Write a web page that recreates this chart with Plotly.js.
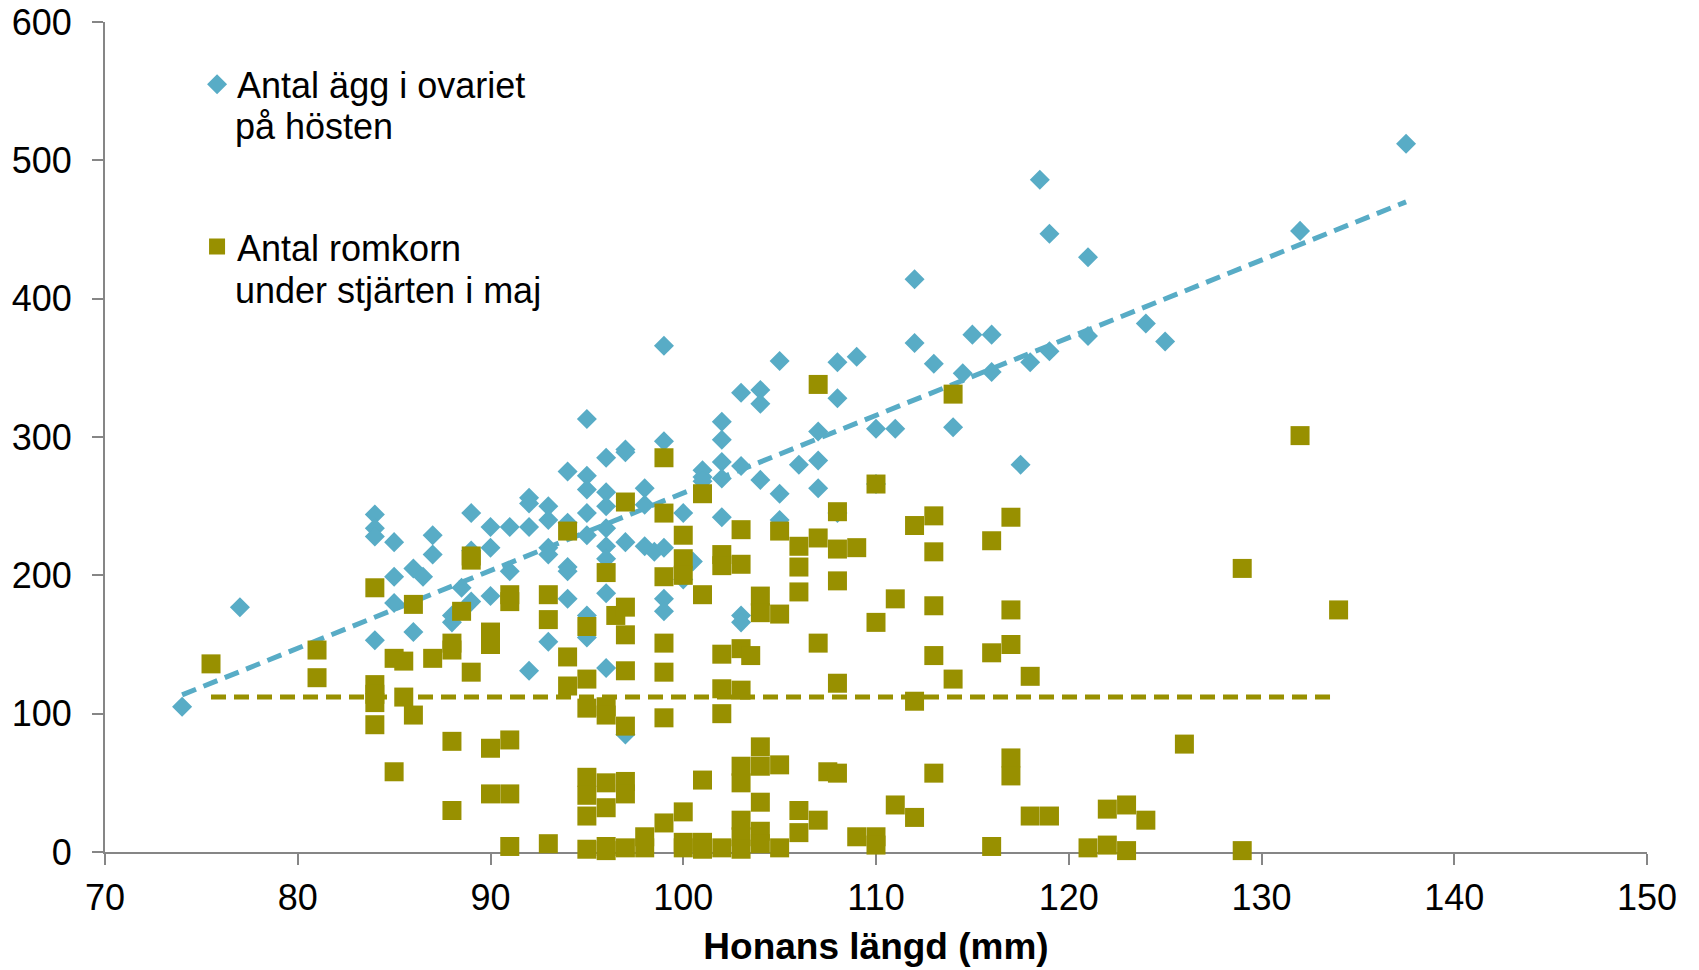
<!DOCTYPE html>
<html><head><meta charset="utf-8">
<script src="https://cdn.plot.ly/plotly-3.0.1.min.js"></script>
<style>html,body{margin:0;padding:0;background:#fff;}#chart{width:1699px;height:970px;}</style>
</head><body><div id="chart"></div>
<script>
// Series 1: Antal ägg i ovariet på hösten  [length mm, count]
const eggPoints = [[74,105],[77,177],[84,244],[84,234],[84,228],[84,153],[85,224],[85,199],[85,180],[86,205],[86.5,199],[86,159],[87,229],[87,215],[88,171],[88,166],[88.5,191],[89,245],[89,218],[89,181],[90,235],[90,220],[90,185],[91,235],[91,203],[92,256],[92,252],[92,235],[92,131],[93,250],[93,240],[93,220],[93,215],[93,152],[94,275],[94,238],[94,206],[94,203],[94,183],[95,313],[95,272],[95,262],[95,245],[95,229],[95,171],[95,155],[96,285],[96,260],[96,250],[96,234],[96,221],[96,212],[96,187],[96,133],[97,291],[97,289],[97,224],[97,85],[98,263],[98,251],[98,221],[98.5,217],[99,366],[99,297],[99,220],[99,183],[99,174],[100,245],[100,197],[100.5,210],[101,276],[101,271],[101,268],[102,311],[102,298],[102,282],[102,270],[102,242],[103,332],[103,279],[103,171],[103,166],[104,334],[104,324],[104,269],[105,355],[105,259],[105,240],[106,280],[107,304],[107,283],[107,263],[108,354],[108,328],[108,245],[109,358],[110,306],[110,266],[111,306],[112,414],[112,368],[113,353],[114,307],[114.5,346],[115,374],[116,374],[116,347],[117.5,280],[118,354],[118.5,486],[119,447],[119,362],[121,430],[121,373],[124,382],[125,369],[132,449],[137.5,512]];

// Series 2: Antal romkorn under stjärten i maj  [length mm, count]
const roePoints = [[84,191],[86,179],[88.5,174],[89,214],[89,211],[91,186],[91,181],[93,186],[93,168],[94,232],[95,163],[96,202],[96.5,171],[97,177],[97,253],[99,285],[99,245],[99,199],[100,229],[100,212],[100,200],[101,259],[101,186],[102,215],[102,207],[103,233],[103,208],[104,185],[104,173],[105,172],[105,232],[106,221],[106,206],[106,188],[107,338],[107,227],[107,151],[108,246],[108,219],[108,196],[109,220],[110,266],[110,166],[111,183],[112,236],[113,243],[113,217],[113,178],[114,331],[116,225],[117,242],[117,175],[129,205],[132,301],[134,175],
[75.5,136],[81,146],[81,126],[84,121],[84,114],[84,108],[84,92],[85,140],[85.5,138],[85.5,112],[86,99],[87,140],[88,151],[88,146],[89,130],[90,159],[90,150],[94,141],[94,120],[95,125],[95,104],[96,105],[96,99],[97,157],[97,131],[97,91],[99,151],[99,130],[99,97],[102,143],[102,118],[102,100],[103,147],[103.5,142],[103,117],[108,122],[112,109],[113,142],[114,125],[116,144],[117,150],[118,127],
[85,58],[88,80],[88,30],[90,75],[91,81],[90,42],[91,42],[95,54],[95,41],[95,26],[96,50],[96,32],[97,51],[97,42],[101,52],[103,62],[103,50],[104,76],[104,62],[104,36],[105,63],[107.5,58],[108,57],[111,34],[113,57],[117,68],[117,55],[126,78],
[91,4],[93,6],[95,2],[96,4],[96,1],[97,3],[98,11],[98,3],[99,21],[100,29],[100,7],[100,3],[101,7],[101,2],[102,3],[103,23],[103,11],[103,2],[104,15],[104,6],[105,3],[106,30],[106,14],[107,23],[109,11],[110,11],[110,5],[112,25],[116,4],[118,26],[119,26],[121,3],[122,31],[122,5],[123,34],[123,1],[124,23],[129,1]];

// Trend lines
const eggTrendLength = [74, 137.5];
const eggTrendCount = [113.6, 470];
const roeTrendLength = [75.5, 133.6];
const roeTrendCount = [112, 112];

const legendLine1 = ['Antal ägg i ovariet', 'Antal romkorn'];
const legendLine2 = ['på hösten', 'under stjärten i maj'];
const xTicks = [70, 80, 90, 100, 110, 120, 130, 140, 150];
const yTicks = [0, 100, 200, 300, 400, 500, 600];
const xTitle = 'Honans längd (mm)';

const BLUE = '#58acc6', OLIVE = '#989000';
const FONT = 'Liberation Sans, Arial, sans-serif';

const traces = [
  {x: eggTrendLength, y: eggTrendCount, mode: 'lines', showlegend: false, hoverinfo: 'skip',
   line: {color: BLUE, width: 5, dash: '15px,8px'}, cliponaxis: false},
  {x: roeTrendLength, y: roeTrendCount, mode: 'lines', showlegend: false, hoverinfo: 'skip',
   line: {color: OLIVE, width: 5, dash: '15px,8px'}, cliponaxis: false},
  {x: eggPoints.map(p => p[0]), y: eggPoints.map(p => p[1]), mode: 'markers', name: legendLine1[0],
   legend: 'legend', cliponaxis: false,
   marker: {symbol: 'diamond', size: 15.4, color: BLUE, line: {width: 0}}},
  {x: roePoints.map(p => p[0]), y: roePoints.map(p => p[1]), mode: 'markers', name: legendLine1[1],
   legend: 'legend2', cliponaxis: false,
   marker: {symbol: 'square', size: 19, color: OLIVE, line: {width: 0}}}
];

const axisCommon = {
  showline: true, linecolor: '#868686', linewidth: 2,
  ticks: 'outside', ticklen: 11, tickwidth: 2, tickcolor: '#868686',
  showgrid: false, zeroline: false, layer: 'below traces',
  tickfont: {family: FONT, size: 36, color: '#000'}
};

const layout = {
  width: 1699, height: 970,
  margin: {l: 105, r: 52, t: 22, b: 118, pad: 0, autoexpand: false},
  paper_bgcolor: '#fff', plot_bgcolor: '#fff',
  font: {family: FONT, size: 36, color: '#000'},
  showlegend: true,
  xaxis: Object.assign({}, axisCommon, {
    range: [70, 150], tickmode: 'array', tickvals: xTicks, ticktext: xTicks.map(String),
    ticklabelstandoff: 2,
    title: {text: xTitle, font: {family: FONT, size: 37, weight: 'bold', color: '#000'}, standoff: 16}
  }),
  yaxis: Object.assign({}, axisCommon, {
    range: [0, 600], tickmode: 'array', tickvals: yTicks, ticktext: yTicks.map(String),
    ticklabelstandoff: 13
  }),
  legend: {x: 0.0597, xref: 'paper', y: 0.9611, yref: 'paper', xanchor: 'left', yanchor: 'top',
    bgcolor: 'rgba(0,0,0,0)', borderwidth: 0, font: {family: FONT, size: 36, color: '#000'}},
  legend2: {x: 0.0597, xref: 'paper', y: 0.7654, yref: 'paper', xanchor: 'left', yanchor: 'top',
    bgcolor: 'rgba(0,0,0,0)', borderwidth: 0, font: {family: FONT, size: 36, color: '#000'}},
  annotations: [
    {text: legendLine2[0], xref: 'paper', yref: 'paper', x: 0.0833, y: 0.8735, xanchor: 'left', yanchor: 'middle',
     showarrow: false, font: {family: FONT, size: 36, color: '#000'}},
    {text: legendLine2[1], xref: 'paper', yref: 'paper', x: 0.0833, y: 0.6771, xanchor: 'left', yanchor: 'middle',
     showarrow: false, font: {family: FONT, size: 36, color: '#000'}}
  ]
};

Plotly.newPlot('chart', traces, layout, {displayModeBar: false, staticPlot: true});
</script>
</body></html>
